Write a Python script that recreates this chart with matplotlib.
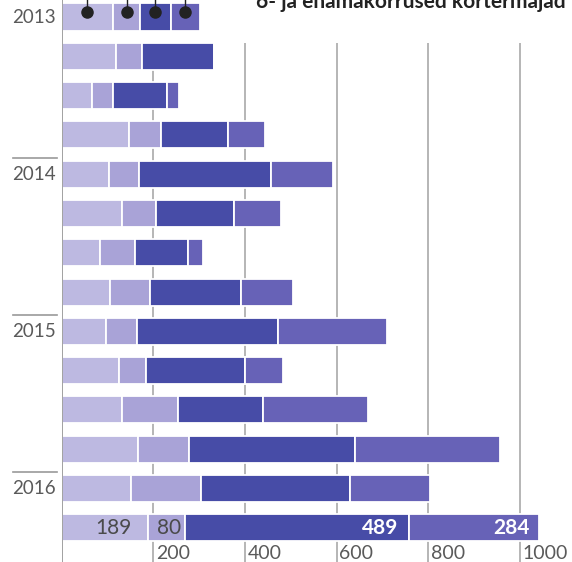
import matplotlib.pyplot as plt
import numpy as np

# quarters 2013 Q1 .. 2016 Q2, four groups per quarter
seg1 = [113, 118, 66, 147, 103, 131, 83, 106, 98, 126, 131, 167, 151, 189]
seg2 = [58, 58, 46, 69, 67, 75, 78, 87, 67, 59, 124, 110, 154, 80]
seg3 = [67, 157, 119, 147, 287, 169, 114, 199, 306, 215, 184, 362, 325, 489]
seg4 = [63, 0, 26, 80, 135, 104, 33, 113, 239, 84, 230, 317, 174, 284]
years = ['2013', '2014', '2015', '2016']
year_rows = [0, 4, 8, 12]
ticks = [200, 400, 600, 800, 1000]
colors = ['#bdb9e1', '#a9a3d7', '#474ca7', '#6762b7']
title = '6- ja enamakorrused kortermajad'

plt.rcParams['font.family'] = ['Lato', 'DejaVu Sans']

fig = plt.figure(figsize=(5.72, 5.62), dpi=100)
ax = fig.add_axes([61.5 / 572, 0, 1 - 61.5 / 572, 1])

rows = np.arange(len(seg1))
segs = [np.array(s) for s in (seg1, seg2, seg3, seg4)]
left = np.zeros(len(rows))
for s, c in zip(segs, colors):
    ax.barh(rows, s, left=left, height=0.69, color=c, edgecolor='white',
            linewidth=1.3, zorder=2)
    left = left + s

ax.set_xlim(0, 1113)
ax.set_ylim(13.87, -0.433)

# grid lines and tick labels
ax.vlines(ticks, 0.66, 13.87, color='#b0b0b0', lw=1.3, zorder=0)
for t in ticks:
    ax.text(t + 6, 13.66, str(t), ha='left', va='center', fontsize=14,
            color='#5a5a5a')
ax.axvline(0, color='#9a9a9a', lw=1.3, zorder=3)

# year labels with separators
for yl, r in zip(years, year_rows):
    ax.text(-49.5 / 0.4587, r, yl, ha='left', va='center', fontsize=13.5,
            color='#5a5a5a', clip_on=False)
    if r > 0:
        ax.plot([-48.5 / 0.4587, -4.5 / 0.4587], [r - 0.41, r - 0.41],
                color='#999999', lw=1.2, clip_on=False)

# legend markers on the first bar
start = 0
for s in segs:
    cx = start + s[0] / 2
    ax.plot([cx, cx], [-0.12, -0.5], color='#222222', lw=1.0, zorder=4,
            clip_on=False)
    ax.plot(cx, -0.12, 'o', ms=8, color='#222222', zorder=5)
    start += s[0]

# value labels on the last bar
last = len(rows) - 1
pads = [-12, -3, -8, -7]
start = 0
for i, s in enumerate(segs):
    end = start + s[last]
    white = i >= 2
    ax.annotate(str(s[last]), (end, last), xytext=(pads[i], 0),
                textcoords='offset points', ha='right', va='center',
                fontsize=15, color='white' if white else '#4a4a4a',
                fontweight='bold' if white else 'normal', zorder=6)
    start = end

for sp in ax.spines.values():
    sp.set_visible(False)
ax.set_xticks([])
ax.set_yticks([])

fig.text(566 / 572, 1 - 8 / 562, title, ha='right', va='baseline',
         fontsize=15, fontweight='bold', color='#222222')

fig.savefig('out.png', dpi=100)
